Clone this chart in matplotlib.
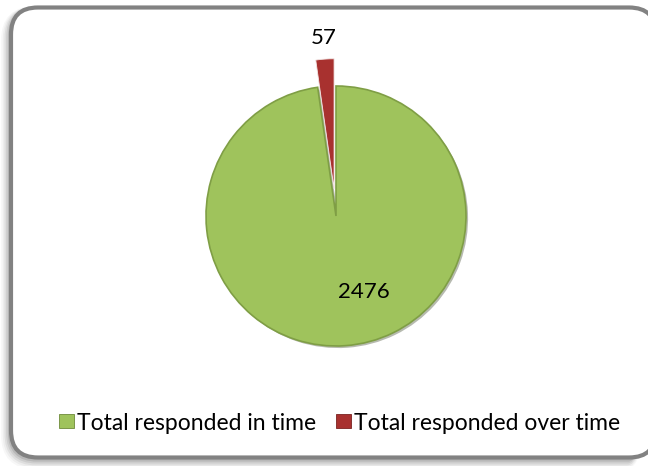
import matplotlib
matplotlib.use("Agg")
import matplotlib.pyplot as plt
from matplotlib.patches import FancyBboxPatch
import matplotlib.patheffects as pe

# Data
categories = ["Total responded in time", "Total responded over time"]
values = [2476, 57]
value_labels = ["2476", "57"]

colors = ["#9FC35C", "#A8312F"]
edge_colors = ["#7F9E45", "#F2E6E5"]

plt.rcParams["font.family"] = ["Lato", "DejaVu Sans"]

W, H = 648, 466
fig = plt.figure(figsize=(W / 100, H / 100), dpi=100)
fig.patch.set_facecolor("white")

# Background frame in pixel units
bg = fig.add_axes([0, 0, 1, 1])
bg.set_xlim(0, W)
bg.set_ylim(H, 0)
bg.axis("off")

# soft shadow under the frame
for i, a in enumerate([0.10, 0.08, 0.06, 0.04, 0.03]):
    sh = FancyBboxPatch((11 - 1 - i * 0.6, 7.5 + 2 + i * 0.8), 645, 450,
                        boxstyle="round,pad=0,rounding_size=27",
                        facecolor="none", edgecolor="black",
                        linewidth=3 + i * 1.6, alpha=a, zorder=1)
    bg.add_patch(sh)

frame = FancyBboxPatch((11, 7.5), 645, 450,
                       boxstyle="round,pad=0,rounding_size=27",
                       facecolor="white", edgecolor="#828282",
                       linewidth=3.0, zorder=2)
bg.add_patch(frame)

# Pie axes: center at (336, 216) px, radius 130 px, limits +-1.5
cx, cy, r = 336, 216, 130
half = 1.5 * r
ax = fig.add_axes([(cx - half) / W, (H - cy - half) / H, 2 * half / W, 2 * half / H])
ax.axis("off")
ax.patch.set_alpha(0)

wedges, texts = ax.pie(values, labels=value_labels, colors=colors,
                       startangle=90, counterclock=False,
                       explode=(0, 0.21), labeldistance=1.16,
                       radius=1.0, frame=False,
                       wedgeprops=dict(linewidth=1.2),
                       textprops=dict(fontsize=16, color="black"))
ax.set_xlim(-1.5, 1.5)
ax.set_ylim(-1.5, 1.5)
ax.set_aspect("equal")

wedges[0].set_edgecolor(edge_colors[0])
wedges[0].set_path_effects([pe.SimplePatchShadow(offset=(1.5, -1.5), alpha=0.35),
                            pe.Normal()])
wedges[1].set_edgecolor(edge_colors[1])
wedges[1].set_linewidth(0.6)
wedges[1].set_zorder(5)

# label placement
texts[0].set_position((0.215, -0.585))
texts[0].set_ha("center")
texts[0].set_va("center")
texts[1].set_position((-0.097, 1.367))
texts[1].set_ha("center")
texts[1].set_va("center")

leg = fig.legend(wedges, categories, loc="center",
                 bbox_to_anchor=(339.5 / W, 1 - 423 / H),
                 ncol=2, frameon=False, fontsize=16.5,
                 handlelength=0.66, handleheight=0.55,
                 handletextpad=0.15, columnspacing=0.85,
                 borderaxespad=0)
for h, ec in zip(leg.legend_handles, ["#6E8A3A", "#7A2220"]):
    h.set_path_effects([])
    h.set_edgecolor(ec)
    h.set_linewidth(0.6)

fig.savefig("out.png", dpi=100, facecolor="white")
